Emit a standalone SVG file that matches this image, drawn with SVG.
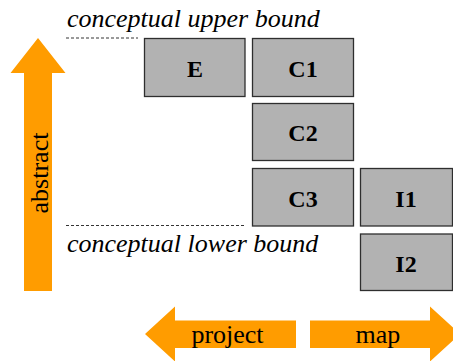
<svg xmlns="http://www.w3.org/2000/svg" width="453" height="361" viewBox="0 0 453 361">
  <style>
    text { font-family: "Liberation Serif", "Times New Roman", Times, "DejaVu Serif", serif; fill: #000; }
    .box { fill: #b2b2b2; stroke: #2e2e2e; stroke-width: 1.3; }
    .lbl { font-size: 24px; font-weight: bold; text-anchor: middle; }
    .bound { font-size: 26px; font-style: italic; }
    .arrow { fill: #ff9c00; }
    .atxt { font-size: 26px; text-anchor: middle; }
    .dash { stroke: #000; stroke-width: 0.8; stroke-dasharray: 3 2; fill: none; }
  </style>

  <!-- bound labels and dashed guide lines -->
  <text class="bound" x="67" y="26.5">conceptual upper bound</text>
  <text class="bound" x="67" y="251.5">conceptual lower bound</text>
  <g id="connectors">
    <line class="dash" x1="66" y1="38" x2="138" y2="38"/>
    <line class="dash" x1="66" y1="225.5" x2="246" y2="225.5"/>
  </g>

  <!-- vertical "abstract" arrow -->
  <g id="abstract-arrow">
    <path class="arrow" d="M24,291 L24,73 L10.5,73 L38,38 L65.5,73 L52,73 L52,291 Z"/>
    <text class="atxt" transform="translate(47.5,173) rotate(-90)" x="0" y="0">abstract</text>
  </g>

  <!-- horizontal arrows -->
  <g id="project-arrow">
    <path class="arrow" d="M296,320.5 L175,320.5 L175,306.5 L145,334 L175,361.5 L175,348 L296,348 Z"/>
    <text class="atxt" x="227.5" y="343">project</text>
  </g>
  <g id="map-arrow">
    <path class="arrow" d="M310,320.5 L430,320.5 L430,306.5 L460,334 L430,361.5 L430,348 L310,348 Z"/>
    <text class="atxt" x="378" y="343">map</text>
  </g>

  <!-- nodes -->
  <g id="E">
    <rect class="box" x="144.5" y="38.5" width="100.5" height="58"/>
    <text class="lbl" x="195" y="77">E</text>
  </g>
  <g id="C1">
    <rect class="box" x="252.5" y="38.5" width="101" height="58"/>
    <text class="lbl" x="303" y="77">C1</text>
  </g>
  <g id="C2">
    <rect class="box" x="252.5" y="103.5" width="101" height="57"/>
    <text class="lbl" x="303" y="141">C2</text>
  </g>
  <g id="C3">
    <rect class="box" x="252.5" y="168.5" width="101" height="57.5"/>
    <text class="lbl" x="303" y="207">C3</text>
  </g>
  <g id="I1">
    <rect class="box" x="360.5" y="168.5" width="92" height="57.5"/>
    <text class="lbl" x="406" y="207">I1</text>
  </g>
  <g id="I2">
    <rect class="box" x="360.5" y="234" width="92" height="56.5"/>
    <text class="lbl" x="406" y="272">I2</text>
  </g>
</svg>
